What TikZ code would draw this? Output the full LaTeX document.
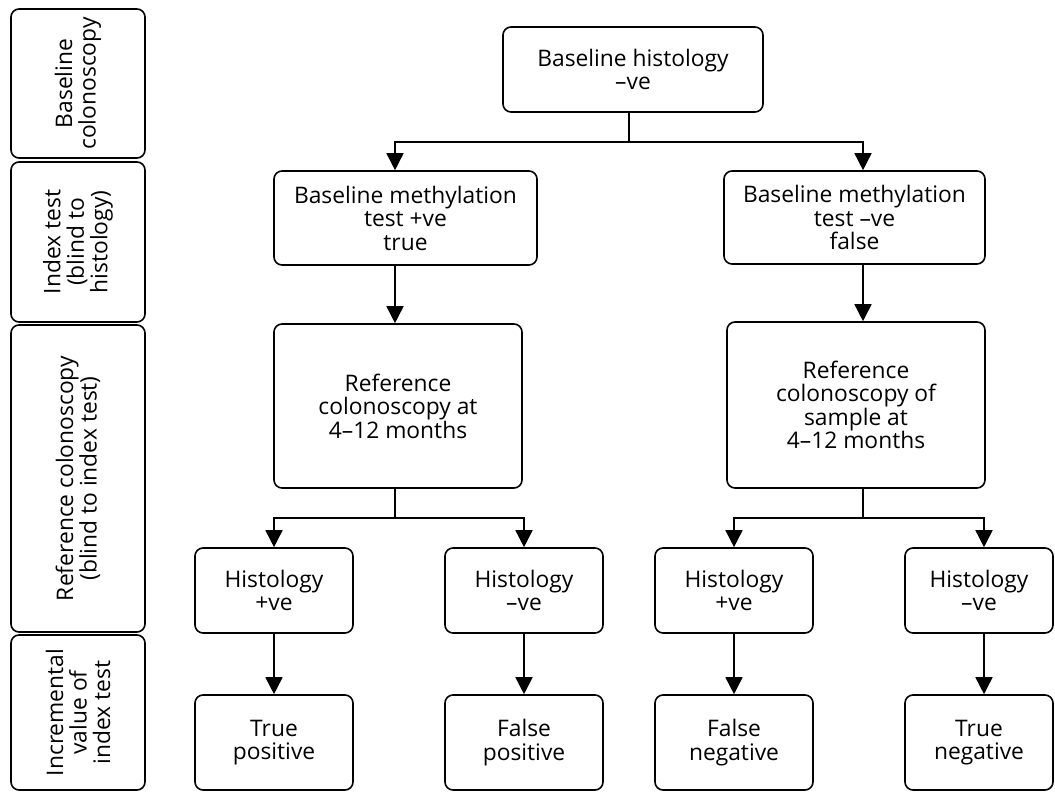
\documentclass[tikz,border=0pt]{standalone}
\usepackage{fontspec}
\setmainfont{Open Sans}
\usetikzlibrary{arrows.meta,calc}
\begin{document}
\begin{tikzpicture}[x=1pt,y=-1pt,
  box/.style={draw,line width=1.6pt,rounded corners=8pt,align=center,inner sep=0pt,
    font=\fontsize{22.8}{23.5}\selectfont},
  side/.style={box,rotate=90},
  arr/.style={line width=1.6pt,-{Triangle[width=17pt,length=17pt]}},
  ln/.style={line width=1.6pt}]
\useasboundingbox (0,0) rectangle (1055,792);
% side column
\node[side,minimum width=149pt,minimum height=134pt] (s1) at (78,83.5) {Baseline\\colonoscopy};
\node[side,minimum width=160pt,minimum height=134pt] (s2) at (78,242) {Index test\\(blind to\\histology)};
\node[side,minimum width=307pt,minimum height=134pt] (s3) at (78,478.5) {Reference colonoscopy\\(blind to index test)};
\node[side,minimum width=155pt,minimum height=134pt] (s4) at (78,712.5) {Incremental\\value of\\index test};
% main boxes
\node[box,minimum width=260pt,minimum height=85pt] (top) at (633,69.5) {Baseline histology\\–ve};
\node[box,minimum width=263pt,minimum height=94pt] (m1) at (405.5,218) {Baseline methylation\\test +ve\\true};
\node[box,minimum width=261pt,minimum height=93pt] (m2) at (854.5,217.5) {Baseline methylation\\test –ve\\false};
\node[box,minimum width=248pt,minimum height=164pt] (r1) at (398,406) {Reference\\colonoscopy at\\4–12 months};
\node[box,minimum width=258pt,minimum height=166pt] (r2) at (856,405) {Reference\\colonoscopy of\\sample at\\4–12 months};
\node[box,minimum width=158pt,minimum height=85pt] (h1) at (274,590.5) {Histology\\+ve};
\node[box,minimum width=158pt,minimum height=85pt] (h2) at (524,590.5) {Histology\\–ve};
\node[box,minimum width=158pt,minimum height=85pt] (h3) at (734,590.5) {Histology\\+ve};
\node[box,minimum width=148pt,minimum height=85pt] (h4) at (979,590.5) {Histology\\–ve};
\node[box,minimum width=158pt,minimum height=95pt] (o1) at (274,742.5) {True\\positive};
\node[box,minimum width=158pt,minimum height=95pt] (o2) at (524,742.5) {False\\positive};
\node[box,minimum width=158pt,minimum height=95pt] (o3) at (734,742.5) {False\\negative};
\node[box,minimum width=148pt,minimum height=95pt] (o4) at (979,742.5) {True\\negative};
% connectors
\coordinate (j1) at (629,142);
\coordinate (a1) at (395,142);
\coordinate (a2) at (863,142);
\coordinate (j2) at (395,518);
\coordinate (j3) at (863,518);
\coordinate (b4) at (984,518);
\draw[ln] (top.south -| j1) -- (j1);
\draw[arr] (j1) -- (a1) -- (a1 |- m1.north);
\draw[arr] (j1) -- (a2) -- (a2 |- m2.north);
\draw[arr] (a1 |- m1.south) -- (a1 |- r1.north);
\draw[arr] (a2 |- m2.south) -- (a2 |- r2.north);
\draw[ln] (j2 |- r1.south) -- (j2);
\draw[ln] (j3 |- r2.south) -- (j3);
\draw[arr] (j2) -| (h1.north);
\draw[arr] (j2) -| (h2.north);
\draw[arr] (j3) -| (h3.north);
\draw[arr] (j3) -- (b4) -- (b4 |- h4.north);
\draw[arr] (h1) -- (o1);
\draw[arr] (h2) -- (o2);
\draw[arr] (h3) -- (o3);
\draw[arr] (b4 |- h4.south) -- (b4 |- o4.north);
\end{tikzpicture}
\end{document}
